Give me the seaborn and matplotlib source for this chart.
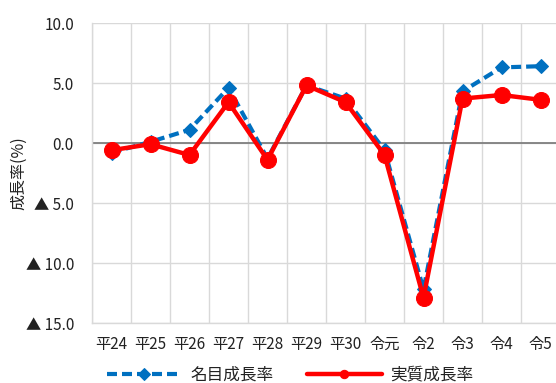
import numpy as np
import pandas as pd
import matplotlib
matplotlib.use('Agg')
import matplotlib.pyplot as plt
import seaborn as sns

# Fiscal years and growth rates (%)
years = ["平24", "平25", "平26", "平27", "平28", "平29", "平30", "令元", "令2", "令3", "令4", "令5"]
nominal = [-0.8, 0.1, 1.1, 4.6, -1.3, 4.8, 3.7, -0.6, -12.2, 4.3, 6.3, 6.4]
real = [-0.6, -0.1, -1.0, 3.4, -1.4, 4.8, 3.4, -1.0, -12.9, 3.7, 4.0, 3.6]
y_ticks = [10, 5, 0, -5, -10, -15]
y_ticklabels = ["10.0", "5.0", "0.0", "▲ 5.0", "▲ 10.0", "▲ 15.0"]

sns.set_style("white")
plt.rcParams['font.family'] = ['Noto Sans CJK JP', 'DejaVu Sans']

fig = plt.figure(figsize=(5.56, 3.83), dpi=100)
ax = fig.add_axes([92 / 556, 60 / 383, 468 / 556, 300 / 383])

df = pd.DataFrame({"year": years, "nominal": nominal, "real": real})

sns.lineplot(data=df, x="year", y="nominal", ax=ax, color="#0070C0", lw=3,
             linestyle=(0, (2.4, 1.2)), marker="D", markersize=7,
             markeredgecolor="#0070C0", label="名目成長率", sort=False)
sns.lineplot(data=df, x="year", y="real", ax=ax, color="#FF0000", lw=3.2,
             marker="o", markersize=11.5, markeredgecolor="#FF0000",
             label="実質成長率", sort=False)

ax.set_xlim(-0.5, len(years) - 0.5)
ax.set_ylim(-15, 10)
ax.set_yticks(y_ticks)
ax.set_yticklabels(y_ticklabels, fontsize=11, color="#222222")
ax.set_xticks(range(len(years)))
ax.set_xticklabels(years, fontsize=11, color="#222222")
ax.set_xticks(np.arange(-0.5, len(years)), minor=True)
ax.tick_params(axis='both', which='both', length=0)
ax.tick_params(axis='x', pad=9)
ax.tick_params(axis='y', pad=13)

ax.grid(False)
ax.grid(True, axis='y', which='major', color="#d9d9d9", lw=1)
ax.grid(True, axis='x', which='minor', color="#d9d9d9", lw=1)
ax.axhline(0, color="#7f7f7f", lw=1.3, zorder=1.5)

for s in ["top", "right"]:
    ax.spines[s].set_visible(False)
for s in ["left", "bottom"]:
    ax.spines[s].set_color("#d9d9d9")
    ax.spines[s].set_linewidth(1)

ax.set_xlabel("")
ax.set_ylabel("成長率(%)", fontsize=11.5, color="#222222")
ax.yaxis.set_label_coords(-0.139, 0.5)

leg = ax.legend(loc="center", bbox_to_anchor=(0.423, -0.173), ncol=2, frameon=False,
                fontsize=12, handlelength=4.5, columnspacing=2.0, handletextpad=0.5)
for h in leg.legend_handles:
    h.set_markersize(6)
for t in leg.get_texts():
    t.set_color("#222222")

fig.savefig("out.png", dpi=100)
